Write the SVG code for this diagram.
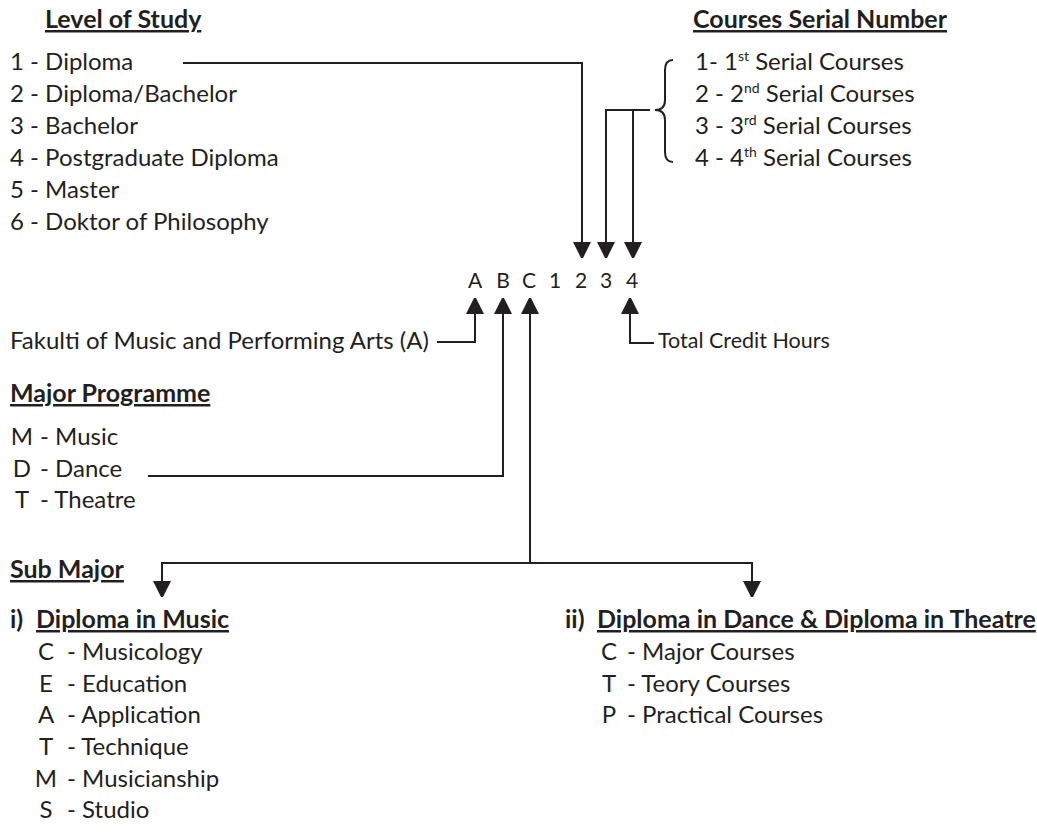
<svg xmlns="http://www.w3.org/2000/svg" width="1037" height="832" viewBox="0 0 1037 832">
<defs>
<style>
text{font-family:Lato,"Liberation Sans",sans-serif;font-size:24px;fill:#231f20}
.b{font-weight:bold;font-size:25px}
.u{text-decoration:underline}
.m{text-anchor:middle}
.k{font-size:21px}
.c{fill:none;stroke:#231f20;stroke-width:2}
.sup{font-size:14px}
</style>
<marker id="ah" viewBox="0 0 16 18" refX="16" refY="9" markerWidth="16" markerHeight="18" markerUnits="userSpaceOnUse" orient="auto-start-reverse">
<path d="M0,0 L18,9 L0,18 Z" fill="#231f20"/>
</marker>
</defs>
<rect width="1037" height="832" fill="#fff"/>

<g id="connectors">
<path class="c" d="M183,63 H582 V258" marker-end="url(#ah)"/>
<path class="c" d="M650,110 H606 V258" marker-end="url(#ah)"/>
<path class="c" d="M633,110 V258" marker-end="url(#ah)"/>
<path class="c" d="M437,342 H475 V298" marker-end="url(#ah)"/>
<path class="c" d="M148,476 H503 V298" marker-end="url(#ah)"/>
<path class="c" d="M530,563 V298" marker-end="url(#ah)"/>
<path class="c" d="M162,597 V563 H752 V597" marker-start="url(#ah)" marker-end="url(#ah)"/>
<path class="c" d="M654,343 H630 V298" marker-end="url(#ah)"/>
<path class="c" d="M673,60 Q665,60 665,70 V100 Q665,110 655,110 Q665,110 665,120 V152 Q665,162 673,162"/>
</g>

<g id="code">
<text x="475 503 529 555 581 606 632" y="288" class="m k">ABC1234</text>
</g>

<g id="level-of-study">
<text x="45" y="28" class="b u">Level of Study</text>
<text x="10" y="70">1 - Diploma</text>
<text x="10" y="102">2 - Diploma/Bachelor</text>
<text x="10" y="134">3 - Bachelor</text>
<text x="10" y="166">4 - Postgraduate Diploma</text>
<text x="10" y="198">5 - Master</text>
<text x="10" y="230">6 - Doktor of Philosophy</text>
</g>

<g id="courses-serial">
<text x="693" y="28" class="b u">Courses Serial Number</text>
<text x="695" y="70">1- 1<tspan class="sup" dy="-9">st</tspan><tspan dy="9"> Serial Courses</tspan></text>
<text x="695" y="102">2 - 2<tspan class="sup" dy="-9">nd</tspan><tspan dy="9"> Serial Courses</tspan></text>
<text x="695" y="134">3 - 3<tspan class="sup" dy="-9">rd</tspan><tspan dy="9"> Serial Courses</tspan></text>
<text x="695" y="166">4 - 4<tspan class="sup" dy="-9">th</tspan><tspan dy="9"> Serial Courses</tspan></text>
</g>

<g id="faculty">
<text x="10" y="349">Fakulti of Music and Performing Arts (A)</text>
</g>

<g id="credit-hours">
<text x="658" y="348" style="font-size:21.5px">Total Credit Hours</text>
</g>

<g id="major-programme">
<text x="10" y="402" class="b u">Major Programme</text>
<text x="22" y="445" class="m">M</text><text x="40" y="445">- Music</text>
<text x="22" y="477" class="m">D</text><text x="40" y="477">- Dance</text>
<text x="22" y="508" class="m">T</text><text x="40" y="508">- Theatre</text>
</g>

<g id="sub-major">
<text x="10" y="578" class="b u">Sub Major</text>
</g>

<g id="diploma-music">
<text x="10" y="628" class="b">i)</text>
<text x="36" y="628" class="b u">Diploma in Music</text>
<text x="46" y="660" class="m">C</text><text x="67" y="660">- Musicology</text>
<text x="46" y="692" class="m">E</text><text x="67" y="692">- Education</text>
<text x="46" y="723" class="m">A</text><text x="67" y="723">- Application</text>
<text x="46" y="755" class="m">T</text><text x="67" y="755">- Technique</text>
<text x="46" y="787" class="m">M</text><text x="67" y="787">- Musicianship</text>
<text x="46" y="818" class="m">S</text><text x="67" y="818">- Studio</text>
</g>

<g id="diploma-dance-theatre">
<text x="565" y="628" class="b">ii)</text>
<text x="597" y="628" class="b u">Diploma in Dance &amp; Diploma in Theatre</text>
<text x="609" y="660" class="m">C</text><text x="627" y="660">- Major Courses</text>
<text x="609" y="692" class="m">T</text><text x="627" y="692">- Teory Courses</text>
<text x="609" y="723" class="m">P</text><text x="627" y="723">- Practical Courses</text>
</g>
</svg>
